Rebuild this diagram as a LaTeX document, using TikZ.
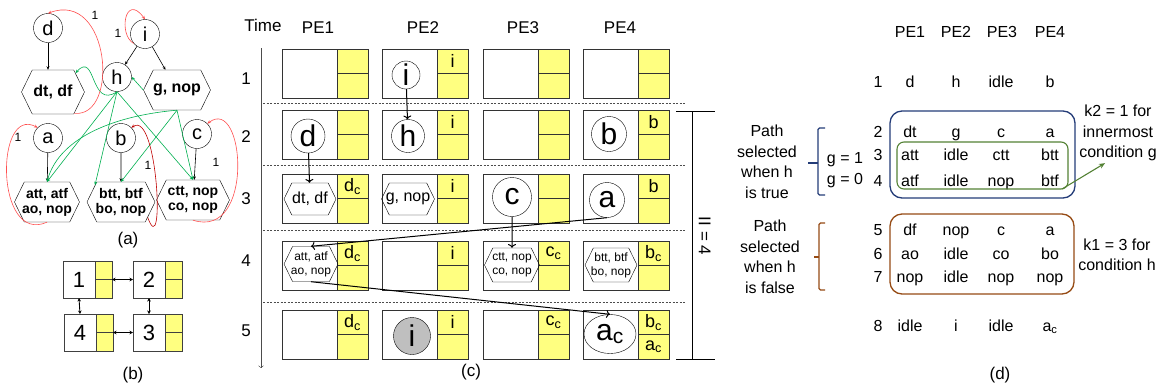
\documentclass[tikz,border=0pt]{standalone}
\usepackage{fontspec}
\setmainfont{Liberation Sans}
\usetikzlibrary{shapes.geometric,shapes.symbols,arrows.meta,positioning}
\definecolor{cellyel}{RGB}{255,255,128}
\definecolor{edgegreen}{RGB}{0,176,80}
\definecolor{loopred}{RGB}{255,80,80}
\definecolor{loopdark}{RGB}{192,0,0}
\definecolor{boxblue}{RGB}{36,60,120}
\definecolor{boxgreen}{RGB}{84,130,53}
\definecolor{boxbrown}{RGB}{150,75,20}
\newcommand{\fsz}[1]{\fontsize{#1}{#1}\selectfont}

\begin{document}
\begin{tikzpicture}[x=1pt,y=-1pt,
    op/.style={circle,draw,inner sep=0pt,minimum size=29pt,font=\fsz{20}},
    bigop/.style={circle,draw,inner sep=0pt,font=\fsz{30}},
    hexop/.style={signal,signal to=west and east,signal pointer angle=128,
      draw,inner xsep=-8pt,inner ysep=0pt,align=center},
    cfg/.style={-{Stealth[length=3.5pt,width=3pt]},line width=0.6pt},
    dep/.style={cfg,edgegreen},
    back/.style={cfg,loopred},
    cellw/.style={rectangle,draw=black!80,fill=white,line width=1pt,
      minimum width=55pt,minimum height=49pt,inner sep=0pt,outer sep=0pt},
    cellt/.style={rectangle,draw=black!80,fill=cellyel,line width=1pt,
      minimum width=31pt,minimum height=24.5pt,inner sep=0pt,outer sep=0pt},
    mesh/.style={rectangle,draw=black!75,fill=white,line width=1pt,
      minimum width=32pt,minimum height=37pt,inner sep=0pt,outer sep=0pt,font=\fsz{22}},
    meshreg/.style={rectangle,draw=black!75,fill=cellyel,line width=1pt,
      minimum width=17pt,minimum height=18.5pt,inner sep=0pt,outer sep=0pt},
    link/.style={{Stealth[length=3.5pt,width=3.5pt]}-{Stealth[length=3.5pt,width=3.5pt]},line width=0.9pt},
    flow/.style={->,line width=1pt},
    ytxt/.style={font=\fsz{18},inner sep=0pt},
    lbl/.style={font=\fsz{17},text height=12pt,text depth=3.5pt,inner sep=0pt},
    dtxt/.style={font=\fsz{16},text height=11.5pt,text depth=3.4pt,inner sep=0pt},
    note/.style={font=\fontsize{16}{20.5}\selectfont,align=center,inner sep=0pt},
  ]
\path[fill=white,use as bounding box] (0,0) rectangle (1167,389);

% (a)
\node[op] (d) at (48,28) {d};
\node[op] (i) at (145,34) {i};
\node[op] (h) at (117,77) {h};
\node[hexop,minimum width=63pt,minimum height=44pt,font=\bfseries\fsz{16}] (dtdf) at (53,92) {dt, df};
\node[hexop,minimum width=67pt,minimum height=40pt,font=\bfseries\fsz{16}] (gnop) at (177,90) {g, nop};
\node[op] (a) at (48,138) {a};
\node[op] (b) at (121,138) {b};
\node[op] (c) at (197,134) {c};
\node[hexop,minimum width=65pt,minimum height=40pt,font=\bfseries\fontsize{14}{15}\selectfont] (att) at (47,202) {att, atf\\ao, nop};
\node[hexop,minimum width=68pt,minimum height=40pt,font=\bfseries\fontsize{14}{15}\selectfont] (btt) at (121,202) {btt, btf\\bo, nop};
\node[hexop,minimum width=73pt,minimum height=40pt,font=\bfseries\fontsize{14}{15}\selectfont] (ctt) at (193,200) {ctt, nop\\co, nop};
\draw[cfg] (d.south) -- (d.south |- dtdf.north);
\draw[cfg] (i) -- (h);
\draw[cfg] (i) -- (gnop);
\draw[cfg] (a) -- (att);
\draw[cfg] (b) -- (btt);
\draw[cfg] (c) -- (ctt);
\draw[dep] (h.south) .. controls (90,110) and (96,50) .. (dtdf.40);
\draw[dep,{Stealth[length=3.5pt,width=3pt]}-] (h.east) -- (gnop.west);
\draw[dep] (h.south) -- (att.north);
\draw[dep] (h.south) -- (btt.147);
\draw[dep] (h.south) -- (ctt.north);
\draw[dep] (gnop.south) .. controls (120,115) and (60,135) .. (att.north);
\draw[dep] (gnop.south) -- (btt.north);
\draw[dep] (gnop.south) -- (ctt.north);
\draw[back] (dtdf.-45) .. controls (120,118) and (110,-10) .. (d.north);
\draw[back] (i.220) .. controls (118,35) and (125,-8) .. (i.north);
\draw[back] (att.south) .. controls (-5,245) and (-5,105) .. (a.north west);
\draw[cfg,loopdark] (btt.-30) .. controls (165,265) and (158,110) .. (b.north east);
\draw[back] (ctt.south) .. controls (255,240) and (245,95) .. (c.north east);
\node[font=\fsz{12}] (one1) at (95,15) {1};
\node[font=\fsz{12}] (one2) at (118,33) {1};
\node[font=\fsz{12}] (one3) at (18,137) {1};
\node[font=\fsz{12}] (one4) at (148,165) {1};
\node[font=\fsz{12}] (one5) at (216,162) {1};
\node[lbl] (capa) at (128,240) {(a)};

% (b)
\foreach \k/\mx/\my in {1/63/261,2/133/261,3/133/314,4/64/314}{
  \node[mesh,anchor=north west] (m\k) at (\mx,\my) {\k};
  \node[meshreg,anchor=north west] (m\k t) at (m\k.north east) {};
  \node[meshreg,anchor=north west] (m\k b) at (m\k t.south west) {};
}
\draw[link] (m1t.south east) -- (m2.west);
\draw[link] (m1.south) -- (m4.north);
\draw[link] (m2.south) -- (m3.north);
\draw[link] (m4t.south east) -- (m3.west);
\node[lbl] (capb) at (133,375) {(b)};

% (c)
\node[lbl] (time) at (263,27) {Time};
\foreach \c/\tx in {1/318,2/423,3/523,4/620}
  \node[lbl] (pe\c) at (\tx,29) {PE\c};
\foreach \r/\ty in {1/80,2/138,3/200,4/262,5/332}
  \node[lbl] (row\r) at (246,\ty) {\r};
\coordinate (ttop) at (261,48);
\coordinate (tbot) at (261,368);
\draw[->,black!70] (ttop) -- (tbot);
\foreach \ty in {103,165,230,302}
  \draw[black!70,dash pattern=on 2pt off 1.5pt] (263,\ty) -- (685,\ty);
\foreach \r/\ty in {1/49,2/110,3/174,4/241,5/310}
  \foreach \c/\tx in {1/282,2/382,3/483,4/583}{
    \node[cellw,anchor=north west] (w\r\c) at (\tx,\ty) {};
    \node[cellt,anchor=north west] (t\r\c) at (w\r\c.north east) {};
    \node[cellt,anchor=north west] (u\r\c) at (t\r\c.south west) {};
  }
\node[ytxt] (y12) at (t12) {i};
\node[ytxt] (y22) at (t22) {i};
\node[ytxt] (y24) at (t24) {b};
\node[ytxt] (y31) at (t31) {d\textsubscript{c}};
\node[ytxt] (y32) at (t32) {i};
\node[ytxt] (y34) at (t34) {b};
\node[ytxt] (y41) at (t41) {d\textsubscript{c}};
\node[ytxt] (y42) at (t42) {i};
\node[ytxt] (y43) at (t43) {c\textsubscript{c}};
\node[ytxt] (y44) at (t44) {b\textsubscript{c}};
\node[ytxt] (y51) at (t51) {d\textsubscript{c}};
\node[ytxt] (y52) at (t52) {i};
\node[ytxt] (y53) at (t53) {c\textsubscript{c}};
\node[ytxt] (y54) at (t54) {b\textsubscript{c}};
\node[ytxt] (z54) at (u54) {a\textsubscript{c}};
\node[bigop,minimum size=28pt] (ci) at (406,75) {i};
\node[bigop,minimum size=33pt] (ch) at (408,136) {h};
\node[bigop,minimum size=34pt] (cd) at (308,136) {d};
\node[bigop,minimum size=35pt] (cb) at (609,134) {b};
\node[hexop,minimum width=52pt,minimum height=32pt,font=\fsz{16}] (cdt) at (310,199) {dt, df};
\node[hexop,minimum width=53pt,minimum height=32pt,font=\fsz{16}] (cg) at (408,199) {g, nop};
\node[bigop,minimum size=39pt] (cc) at (512,197) {c};
\node[bigop,minimum size=35pt] (ca) at (607,200) {a};
\node[hexop,minimum width=54pt,minimum height=35pt,font=\fontsize{12}{14}\selectfont] (catt) at (311,264) {att, atf\\ao, nop};
\node[hexop,minimum width=55pt,minimum height=34pt,font=\fontsize{12}{14}\selectfont] (cctt) at (512,265) {ctt, nop\\co, nop};
\node[hexop,minimum width=52pt,minimum height=34pt,font=\fontsize{12}{14}\selectfont] (cbtt) at (611,265) {btt, btf\\bo, nop};
\node[bigop,minimum size=37pt,fill=black!25] (ci5) at (412,336) {i};
\node[ellipse,draw,inner sep=0pt,minimum width=52pt,minimum height=39pt,font=\fsz{30}] (cac) at (610,334) {a\textsubscript{c}};
\draw[flow] (ci) -- (ch);
\draw[flow] (cd) -- (cdt);
\draw[flow] (cc) -- (cctt);
\draw[flow] (ca.south) -- (catt.north);
\draw[flow] (catt.south) -- (cac.north);
\coordinate (iitop) at (692,111);
\coordinate (iibot) at (692,359);
\draw (676,111) -- (715,111);
\draw (iitop) -- (iibot);
\draw (676,359) -- (715,359);
\node[lbl,rotate=-90] (ii) at (703,236) {II = 4};
\node[lbl] (capc) at (471,372) {(c)};

% (d)
\foreach \t/\x in {PE1/910,PE2/956,PE3/1002,PE4/1050}
  \node[dtxt] (h\t) at (\x,33) {\t};
\foreach \n/\y/\ta/\tb/\tc/\td in {1/83/d/h/idle/b, 2/133/dt/g/c/a,
    3/156/att/idle/ctt/btt, 4/182/atf/idle/nop/btf, 5/231/df/nop/c/a,
    6/255/ao/idle/co/bo, 7/278/nop/idle/nop/nop, 8/327/idle/i/idle/{a\textsubscript{c}}}{
  \node[dtxt] (n\n) at (878,\y) {\n};
  \node[dtxt] (s\n-1) at (910,\y) {\ta};
  \node[dtxt] (s\n-2) at (956,\y) {\tb};
  \node[dtxt] (s\n-3) at (1001,\y) {\tc};
  \node[dtxt] (s\n-4) at (1050,\y) {\td};
}
\draw[boxblue,line width=1.3pt,rounded corners=12pt] (890,111) rectangle (1075,198);
\draw[boxgreen,line width=1.1pt,rounded corners=7pt] (897,142) rectangle (1068,189);
\draw[boxbrown,line width=1.3pt,rounded corners=12pt] (890,214) rectangle (1074,294);
\draw[boxblue,line width=1.3pt,rounded corners=1.5pt] (825,128) -- (818,128) -- (818,195) -- (825,195);
\draw[boxblue,line width=1.3pt] (818,163) -- (808,163);
\draw[boxbrown,line width=1.3pt,rounded corners=1.5pt] (825,223) -- (819,223) -- (819,290) -- (825,290);
\draw[boxbrown,line width=1.3pt] (819,257) -- (814,257);
\node[note] (ptrue) at (767,162) {Path\\selected\\when h\\is true};
\node[note] (pfalse) at (770,257) {Path\\selected\\when h\\is false};
\node[dtxt] (g1) at (845,159) {g = 1};
\node[dtxt] (g0) at (845,180) {g = 0};
\node[note] (k2) at (1118,133) {k2 = 1 for\\innermost\\condition g};
\node[note] (k1) at (1117,255) {k1 = 3 for\\condition h};
\coordinate (gcorner) at (1062,189);
\draw[boxgreen,line width=1.1pt,-{Stealth[length=6pt,width=5pt]}] (gcorner) -- ([xshift=-13pt,yshift=-2pt]k2.south);
\node[lbl] (capd) at (1000,375) {(d)};
\end{tikzpicture}
\end{document}
